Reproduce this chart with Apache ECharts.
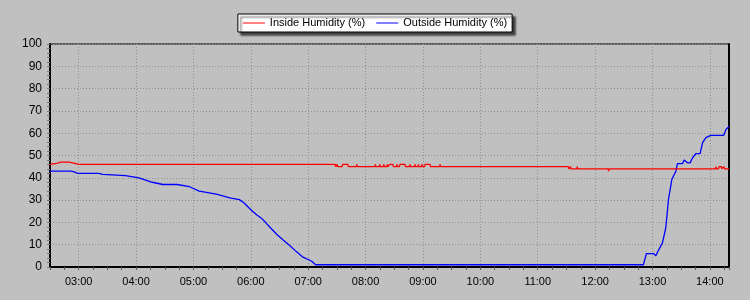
<!DOCTYPE html>
<html>
<head>
<meta charset="utf-8">
<script src="https://cdn.jsdelivr.net/npm/echarts@6/dist/echarts.min.js"></script>
<style>
html,body{margin:0;padding:0;background:#c0c0c0;}
#c{width:750px;height:300px;}
</style>
</head>
<body>
<div id="c"></div>
<script>
// Time in minutes since midnight
const xMin = 150;   // 02:30
const xMax = 860;   // 14:20
const seriesNames = ['Inside Humidity (%)', 'Outside Humidity (%)'];
const yTicks = [0, 100, 10];

const insideMinutes = [150,157,161,170,176,180,448,448.5,449,449.8,450.4,451,
  455.5,456.1,461.4,462,470.3,470.8,471.3,489.7,490.2,490.7,494.4,494.9,495.4,
  498.6,499.1,499.6,502.3,502.8,503.3,504.9,505.4,508.6,509.1,512.3,512.8,513.3,
  515.4,515.9,521.2,521.7,525.9,526.4,526.9,531.1,531.6,532.1,534.8,535.3,535.8,
  538.5,539,539.5,541.7,542.2,547.4,547.9,557.4,557.9,558.4,
  692,692.5,693.8,694.3,694.8,700.8,701.3,701.8,733.6,734.1,734.6,
  845.8,846.3,846.8,849,849.5,852,852.5,854.3,854.8,855.3,860];
const insideValues = [46,46.5,47,47,46.5,46,46,45,46,45,46,45,
  45,46,46,45,45,46,45,45,46,45,45,46,45,
  45,46,45,45,46,45,45,46,46,45,45,46,45,
  45,46,46,45,45,46,45,45,46,45,45,46,45,
  45,46,45,45,46,46,45,45,46,45,
  45,44,44,45,44,44,45,44,44,43,44,
  44,45,44,44,45,45,44,44,45,44,44];

const outsideMinutes = [150,172,176,179,201,205,206.5,229,243,257,268,283,296,306,324,338,348,
  353,360,366,371,376,381,387,393.5,400.6,407.6,414.5,423.3,427.8,770.5,773.6,781.3,783.4,
  786.5,790.4,793.9,796.7,800.2,802.6,804.4,806.1,811.4,813.1,814.8,816.6,819.3,821.9,
  825.3,829.8,832.3,835.8,841,854.4,856.8,860];
const outsideValues = [43,43,42.5,42,42,41.5,41,41,40,38,37,37,36,34,32.7,31,30.2,
  28.7,25.7,23.4,21.9,19.7,17.4,14.7,12.2,9.6,6.9,4.4,2.7,1,1,6,6,5,
  7.7,10.8,17.6,30.2,39.2,41.4,42.9,46.4,46.4,48,48,46.7,46.7,49,
  50.8,50.8,55.7,58,59,59,61.7,63];

function pairs(xs, ys){ return xs.map((x,i)=>[x, ys[i]]); }
const slots = [];
for (let m = xMin; m <= xMax; m += 5) slots.push(String(m));
function hhmm(m){ const h=Math.floor(m/60), mm=m%60; return (h<10?'0':'')+h+':'+(mm<10?'0':'')+mm; }

const font = 'Liberation Sans, Arial, sans-serif';
const chart = echarts.init(document.getElementById('c'), null, {renderer:'canvas'});
chart.setOption({
  backgroundColor: '#c0c0c0',
  animation: false,
  legend: {
    data: seriesNames.map(n => ({name: n, icon: 'rect'})),
    top: 14, left: 'center',
    backgroundColor: '#ffffff',
    borderColor: '#000', borderWidth: 1,
    padding: [3, 5, 3, 5],
    itemWidth: 22, itemHeight: 1, itemGap: 11,
    shadowColor: 'rgba(0,0,0,0.7)', shadowBlur: 2, shadowOffsetX: 3, shadowOffsetY: 3,
    textStyle: {color: '#000', fontFamily: font, fontSize: 11, lineHeight: 12}
  },
  grid: {left: 50, right: 21, top: 44, bottom: 33, show: true,
    borderColor: '#000', borderWidth: 1, backgroundColor: 'transparent', containLabel: false},
  xAxis: [{
    type: 'value', min: xMin, max: xMax, interval: 15,
    axisLine: {show: true, lineStyle: {color: '#000', width: 2}},
    axisTick: {show: true, length: 3, lineStyle: {color: '#555'}},
    axisLabel: {color: '#000', fontFamily: font, fontSize: 11, margin: 9,
      formatter: v => (v % 60 === 0 ? hhmm(v) : '')},
    splitLine: {show: false}
  }, {
    type: 'category', data: slots, boundaryGap: false, position: 'bottom',
    axisLine: {show: false}, axisTick: {show: false}, axisLabel: {show: false},
    splitLine: {show: true, interval: (i) => (xMin + 5*i) % 60 === 0,
      lineStyle: {color: '#8f8f8f', type: [1, 2], width: 1}}
  }],
  yAxis: [{
    type: 'value', min: yTicks[0], max: yTicks[1], interval: yTicks[2],
    axisLine: {show: true, lineStyle: {color: '#000', width: 2}},
    axisTick: {show: true, length: 3, lineStyle: {color: '#777'}},
    minorTick: {show: true, splitNumber: 5, length: 3, lineStyle: {color: '#777'}},
    axisLabel: {color: '#000', fontFamily: font, fontSize: 12, margin: 8},
    splitLine: {show: true, lineStyle: {color: '#8f8f8f', type: [1, 2], width: 1}}
  }, {
    type: 'value', min: yTicks[0], max: yTicks[1], position: 'right',
    axisLine: {show: true, lineStyle: {color: '#000', width: 2}},
    axisTick: {show: false}, axisLabel: {show: false}, splitLine: {show: false}
  }],
  series: [{
    name: seriesNames[1], type: 'line', xAxisIndex: 0, yAxisIndex: 0,
    data: pairs(outsideMinutes, outsideValues), symbol: 'none',
    lineStyle: {color: '#0000ff', width: 1.3}, itemStyle: {color: '#0000ff'}, z: 3
  }, {
    name: seriesNames[0], type: 'line', xAxisIndex: 0, yAxisIndex: 0,
    data: pairs(insideMinutes, insideValues), symbol: 'none',
    lineStyle: {color: '#ff0000', width: 1.3}, itemStyle: {color: '#ff0000'}, z: 4
  }]
});
</script>
</body>
</html>
